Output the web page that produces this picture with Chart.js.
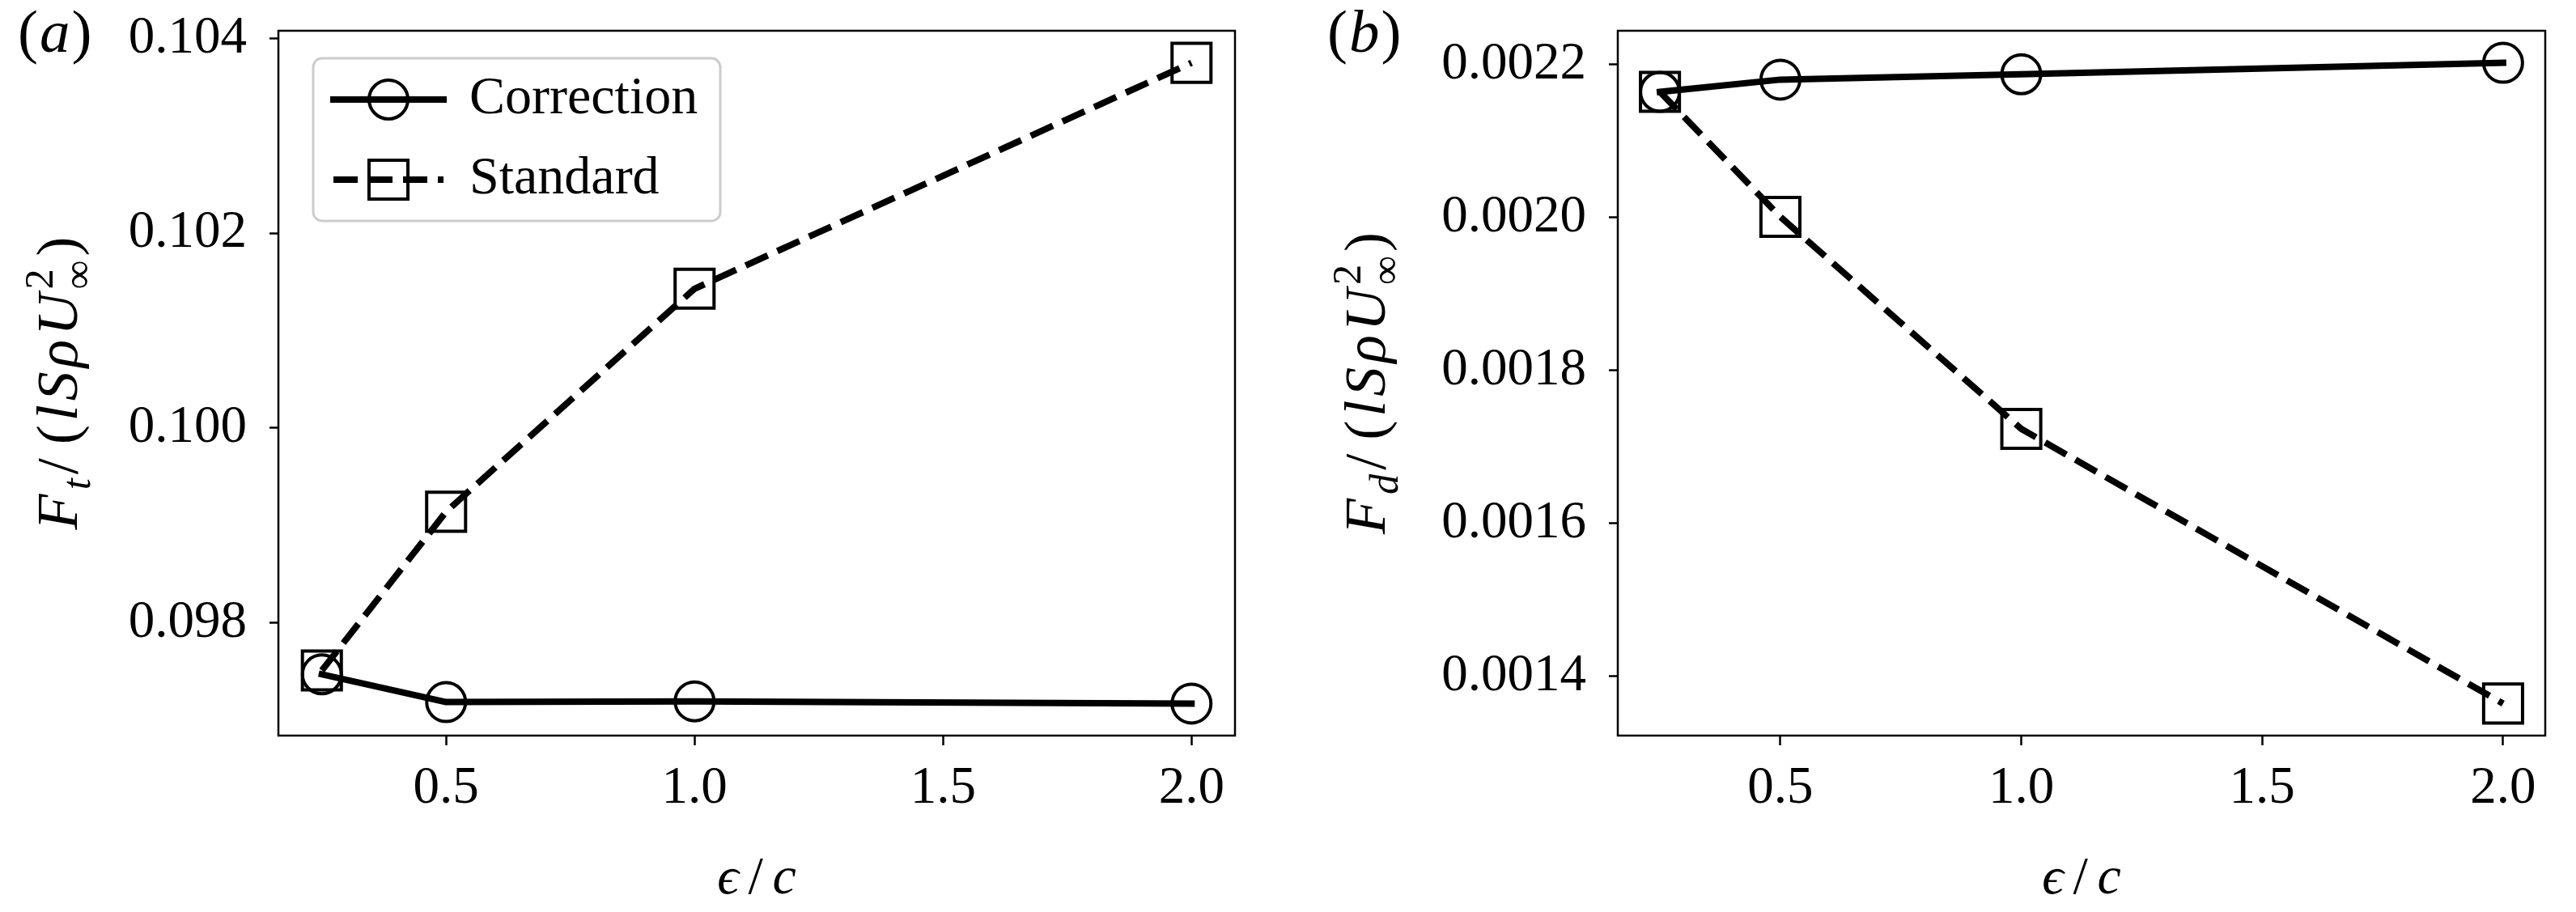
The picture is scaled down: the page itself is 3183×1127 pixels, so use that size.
<!DOCTYPE html>
<html>
<head>
<meta charset="utf-8">
<script src="https://cdn.jsdelivr.net/npm/chart.js@4.4.0/dist/chart.umd.min.js"></script>
<style>
    html, body { margin: 0; padding: 0; background: #fff; }
    #wrap { position: relative; width: 3183px; height: 1127px; overflow: hidden; }
    .panel { position: absolute; top: 0; height: 1127px; }
    #pa { left: 0; width: 1591px; }
    #pb { left: 1591px; width: 1592px; }
</style>
</head>
<body>
<div id="wrap">
    <div class="panel" id="pa"><canvas id="chartA"></canvas></div>
    <div class="panel" id="pb"><canvas id="chartB"></canvas></div>
</div>
<script>
// Data
const epsOverC = [0.25, 0.5, 1.0, 2.0];
const thrustCorrection = [0.09747, 0.097185, 0.097193, 0.09717];
const thrustStandard = [0.09751, 0.09914, 0.10143, 0.10375];
const dragCorrection = [0.002164, 0.00218, 0.002187, 0.002202];
const dragStandard = [0.002164, 0.0020005, 0.0017234, 0.0013643];
const seriesLabels = ['Correction', 'Standard'];
const xTicks = [0.5, 1.0, 1.5, 2.0];
const thrustTicks = [0.098, 0.100, 0.102, 0.104];
const dragTicks = [0.0014, 0.0016, 0.0018, 0.0020, 0.0022];

const serif = "'Liberation Serif', 'DejaVu Serif', serif";

// matplotlib-style 5% margins around the data
const withMargin = (vals) => {
    const lo = Math.min(...vals), hi = Math.max(...vals);
    const m = (hi - lo) * 0.05;
    return [lo - m, hi + m];
};

// Draw a run of "math" text pieces (italics, sub/superscripts), optionally rotated -90deg
function drawMath(ctx, parts, size, x0, y0, rotated) {
    const fontFor = (p) => (p.i ? 'italic ' : '') + (size * (p.s || 1)) + 'px ' + serif;
    const gap = size * 0.07;
    const widths = parts.map(p => { ctx.font = fontFor(p); return ctx.measureText(p.t).width; });
    let total = 0, stackW = 0;
    parts.forEach((p, k) => {
        if (p.stack) { stackW = widths[k]; return; }
        total += Math.max(widths[k], stackW) + (p.gap || 0) + gap;
        stackW = 0;
    });
    total -= gap;
    ctx.save();
    ctx.translate(x0, y0);
    if (rotated) ctx.rotate(-Math.PI / 2);
    ctx.fillStyle = '#000';
    ctx.textBaseline = 'alphabetic';
    ctx.textAlign = 'left';
    let x = -total / 2;
    stackW = 0;
    parts.forEach((p, k) => {
        ctx.font = fontFor(p);
        ctx.fillText(p.t, x, (p.dy || 0) * size);
        if (p.stack) { stackW = widths[k]; return; }
        x += Math.max(widths[k], stackW) + (p.gap || 0) + gap;
        stackW = 0;
    });
    ctx.restore();
}

// Frame, panel tag, axis labels and the legend box
const decorPlugin = {
    id: 'decor',
    afterDraw(chart, args, opts) {
        const { ctx, chartArea: a } = chart;
        ctx.save();
        ctx.strokeStyle = '#000';
        ctx.lineWidth = 2.5;
        ctx.strokeRect(a.left, a.top, a.right - a.left, a.bottom - a.top);

        // panel tag "(a)" / "(b)"
        ctx.fillStyle = '#000';
        ctx.textBaseline = 'alphabetic';
        ctx.textAlign = 'left';
        let tx = opts.tagX;
        [['(', ''], [opts.tag, 'italic '], [')', '']].forEach(([t, st]) => {
            ctx.font = st + '75px ' + serif;
            ctx.fillText(t, tx, 64);
            tx += ctx.measureText(t).width + 2;
        });

        // axis labels
        drawMath(ctx, opts.yLabel, 72, opts.yLabelX, (a.top + a.bottom) / 2, true);
        drawMath(ctx, xLabel, 66, (a.left + a.right) / 2, 1104, false);

        if (opts.legend) {
            const box = { x: 387, y: 72, w: 503, h: 201 };
            ctx.beginPath();
            ctx.roundRect(box.x, box.y, box.w, box.h, 11);
            ctx.fillStyle = 'rgba(255,255,255,0.8)';
            ctx.fill();
            ctx.strokeStyle = '#cccccc';
            ctx.lineWidth = 3;
            ctx.stroke();

            chart.data.datasets.forEach((ds, i) => {
                const y = 123 + i * 99;
                ctx.save();
                ctx.strokeStyle = '#000';
                ctx.lineWidth = ds.borderWidth;
                ctx.lineCap = ds.borderCapStyle;
                ctx.setLineDash(ds.borderDash || []);
                ctx.beginPath();
                ctx.moveTo(412, y);
                ctx.lineTo(548, y);
                ctx.stroke();
                ctx.setLineDash([]);
                ctx.lineWidth = ds.pointBorderWidth;
                ctx.fillStyle = 'rgba(0,0,0,0)';
                Chart.helpers.drawPoint(ctx, {
                    pointStyle: ds.pointStyle, rotation: 0,
                    radius: ds.pointRadius, borderWidth: ds.pointBorderWidth
                }, 480, y);
                ctx.restore();
                ctx.fillStyle = '#000';
                ctx.font = '66px ' + serif;
                ctx.textBaseline = 'middle';
                ctx.fillText(ds.label, 580, y);
            });
        }
        ctx.restore();
    }
};

function makeDatasets(corr, std) {
    const common = {
        borderColor: '#000',
        borderWidth: 8,
        borderJoinStyle: 'round',
        pointBorderColor: '#000',
        pointBackgroundColor: 'rgba(0,0,0,0)',
        pointBorderWidth: 4,
        pointHoverRadius: 0,
        tension: 0,
        clip: false
    };
    return [
        Object.assign({}, common, {
            label: seriesLabels[0],
            data: epsOverC.map((x, i) => ({ x: x, y: corr[i] })),
            borderCapStyle: 'square',
            pointStyle: 'circle',
            pointRadius: 24,
            order: 1
        }),
        Object.assign({}, common, {
            label: seriesLabels[1],
            data: epsOverC.map((x, i) => ({ x: x, y: std[i] })),
            borderCapStyle: 'butt',
            borderDash: [30, 13],
            pointStyle: 'rect',
            pointRadius: 34,
            order: 0
        })
    ];
}

function buildChart(canvasId, cfg) {
    const [xMin, xMax] = withMargin(epsOverC);
    const [yMin, yMax] = withMargin(cfg.corr.concat(cfg.std));
    const tickGrid = (len) => ({
        display: true, drawOnChartArea: false, drawTicks: true,
        tickLength: len, tickWidth: 2.5, tickColor: '#000'
    });
    return new Chart(document.getElementById(canvasId), {
        type: 'line',
        data: { datasets: makeDatasets(cfg.corr, cfg.std) },
        options: {
            responsive: true,
            maintainAspectRatio: false,
            devicePixelRatio: 1,
            animation: false,
            events: [],
            layout: { padding: { top: 30, right: cfg.padRight, left: 0, bottom: 0 } },
            plugins: {
                legend: { display: false },
                tooltip: { enabled: false },
                decor: cfg.decor
            },
            scales: {
                x: {
                    type: 'linear',
                    min: xMin,
                    max: xMax,
                    afterBuildTicks: s => { s.ticks = xTicks.map(v => ({ value: v })); },
                    afterFit: s => { s.height = 218; s.paddingLeft = 0; s.paddingRight = 0; },
                    border: { display: false },
                    grid: tickGrid(12),
                    ticks: {
                        color: '#000', padding: 15, autoSkip: false, maxRotation: 0,
                        font: { family: serif, size: 65 },
                        callback: v => v.toFixed(1)
                    },
                    title: { display: false }
                },
                y: {
                    type: 'linear',
                    min: yMin,
                    max: yMax,
                    afterBuildTicks: s => { s.ticks = cfg.yTicks.map(v => ({ value: v })); },
                    afterFit: s => { s.width = cfg.axisLeft; s.paddingTop = 0; s.paddingBottom = 0; },
                    border: { display: false },
                    grid: tickGrid(11),
                    ticks: {
                        color: '#000', padding: 28, autoSkip: false,
                        font: { family: serif, size: 65 },
                        callback: v => v.toFixed(cfg.digits)
                    }
                }
            }
        },
        plugins: [decorPlugin]
    });
}

// axis label pieces
const xLabel = [
    { t: 'ϵ', i: true, gap: 7 },
    { t: '/', gap: 7 },
    { t: 'c', i: true }
];
const yLabelTail = [
    { t: '/', gap: 12 },
    { t: '(' },
    { t: 'l', i: true },
    { t: 'S', i: true },
    { t: 'ρ', i: true },
    { t: 'U', i: true },
    { t: '2', s: 0.7, dy: -0.42, stack: true },
    { t: '∞', s: 0.7, dy: 0.25 },
    { t: ')' }
];

buildChart('chartA', {
    corr: thrustCorrection, std: thrustStandard, yTicks: thrustTicks, digits: 3,
    axisLeft: 344, padRight: 65,
    decor: {
        tag: 'a', tagX: 22, legend: true, yLabelX: 95,
        yLabel: [{ t: 'F', i: true }, { t: 't', i: true, s: 0.7, dy: 0.22 }].concat(yLabelTail)
    }
});

buildChart('chartB', {
    corr: dragCorrection, std: dragStandard, yTicks: dragTicks, digits: 4,
    axisLeft: 408, padRight: 2,
    decor: {
        tag: 'b', tagX: 49, legend: false, yLabelX: 120,
        yLabel: [{ t: 'F', i: true }, { t: 'd', i: true, s: 0.7, dy: 0.22 }].concat(yLabelTail)
    }
});
</script>
</body>
</html>
